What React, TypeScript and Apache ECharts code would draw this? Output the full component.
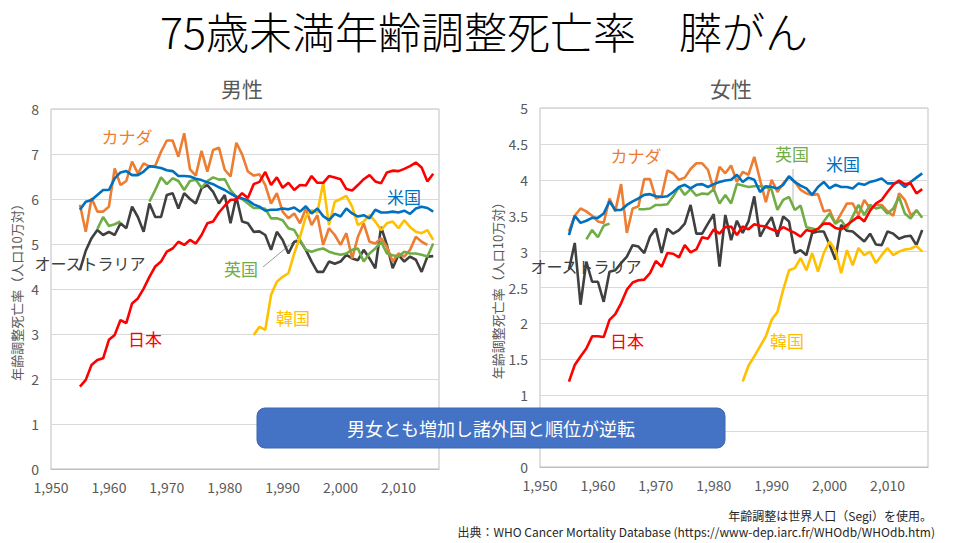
import { useEffect, useRef } from 'react';
import * as echarts from 'echarts';

const FONT = '"Noto Sans CJK JP", "Noto Sans", sans-serif';

const FIRST_YEAR = 1955;
const KOREA_FIRST_YEAR = 1985;

// 男性 (1955-2016)
const maleJapan = [
  1.83, 1.98, 2.31, 2.42, 2.46, 2.87, 2.98, 3.31, 3.24, 3.68,
  3.79, 4.01, 4.27, 4.5, 4.61, 4.83, 4.9, 5.05, 4.98, 5.09,
  5.01, 5.2, 5.46, 5.5, 5.7, 5.85, 5.98, 5.99, 6.13, 6.02,
  6.33, 6.38, 6.6, 6.31, 6.48, 6.25, 6.36, 6.2, 6.31, 6.3,
  6.51, 6.36, 6.36, 6.51, 6.48, 6.44, 6.22, 6.19, 6.31, 6.44,
  6.53, 6.39, 6.35, 6.59, 6.63, 6.62, 6.67, 6.73, 6.81, 6.7,
  6.39, 6.56,
];
const maleUSA = [
  5.76, 5.94, 5.98, 6.09, 6.2, 6.2, 6.46, 6.59, 6.62, 6.53,
  6.53, 6.61, 6.73, 6.71, 6.69, 6.64, 6.62, 6.51, 6.51, 6.5,
  6.45, 6.42, 6.37, 6.33, 6.26, 6.2, 6.12, 6.05, 6.01, 5.97,
  5.88, 5.83, 5.74, 5.76, 5.76, 5.79, 5.77, 5.81, 5.72, 5.84,
  5.68, 5.79, 5.62, 5.53, 5.67, 5.61, 5.79, 5.68, 5.61, 5.64,
  5.57, 5.76, 5.7, 5.7, 5.72, 5.7, 5.74, 5.67, 5.79, 5.83,
  5.8, 5.72,
];
const maleCanada = [
  5.87, 5.27, 6.02, 5.72, 5.72, 5.83, 6.68, 6.31, 6.4, 6.83,
  6.57, 6.79, 6.72, 6.74, 7.05, 7.3, 7.3, 6.94, 7.46, 6.66,
  6.52, 7.07, 6.61, 7.09, 7.14, 6.65, 6.5, 7.25, 6.99, 6.61,
  6.52, 6.55, 6.31, 5.9, 6.13, 5.72, 5.57, 5.68, 5.46, 5.79,
  5.42, 5.64, 4.98, 5.35, 5.2, 4.98, 5.24, 4.68, 5.16, 5.46,
  5.05, 5.01, 5.13, 4.94, 4.61, 4.79, 4.72, 4.87, 5.16, 5.05,
  4.98, null,
];
const maleUK = [
  null, null, null, 5.33, 5.6, 5.4, 5.44, 5.5, null, null,
  null, null, 5.94, 6.2, 6.48, 6.33, 6.46, 6.4, 6.2, 6.4,
  6.43, 6.25, 6.4, 6.48, 6.43, 6.44, 6.2, 6.05, 6.0, 5.9,
  5.8, 5.8, 5.78, 5.57, 5.57, 5.53, 5.35, 5.31, 5.09, 4.87,
  4.83, 4.87, 4.9, 4.83, 4.79, 4.76, 4.79, 4.87, 4.9, 4.61,
  4.79, 4.9, 5.05, 4.79, 4.75, 4.72, 4.83, 4.79, 4.79, 4.76,
  4.72, 5.01,
];
const maleAustralia = [
  4.42, 4.85, 5.13, 5.31, 5.2, 5.27, 5.2, 5.46, 5.35, 5.83,
  5.6, 5.27, 5.9, 5.6, 5.6, 6.09, 6.13, 5.79, 6.13, 6.0,
  5.9, 6.24, 6.31, 6.16, 5.9, 6.09, 5.46, 6.05, 5.5, 5.46,
  5.27, 5.28, 5.2, 4.87, 5.27, 5.09, 4.79, 5.05, 5.07, 4.87,
  4.61, 4.38, 4.38, 4.61, 4.56, 4.61, 4.76, 4.68, 4.64, 4.87,
  4.68, 4.46, 5.38, 4.98, 4.46, 4.76, 4.61, 4.72, 4.65, 4.38,
  4.72, 4.73,
];
// 1985-2016
const maleKorea = [
  2.98, 3.16, 3.09, 3.87, 4.16, 4.27, 4.35, 4.79, 5.16, 5.61,
  5.75, 5.7, 6.36, 5.42, 5.94, 6.0, 6.07, 5.83, 5.42, 5.5,
  5.64, 5.5, 5.31, 5.46, 5.5, 5.35, 5.53, 5.38, 5.27, 5.24,
  5.31, 5.09,
];

// 女性 (1955-2016)
const femaleJapan = [
  1.19, 1.42, 1.54, 1.65, 1.82, 1.82, 1.81, 2.05, 2.13, 2.28,
  2.47, 2.57, 2.6, 2.61, 2.7, 2.87, 2.79, 2.98, 2.97, 2.92,
  3.09, 2.99, 3.03, 3.2, 3.18, 3.31, 3.25, 3.34, 3.35, 3.23,
  3.35, 3.31, 3.38, 3.36, 3.35, 3.31, 3.28, 3.34, 3.3, 3.26,
  3.21, 3.3, 3.28, 3.32, 3.39, 3.39, 3.33, 3.31, 3.37, 3.43,
  3.49, 3.42, 3.57, 3.67, 3.72, 3.83, 3.93, 3.99, 3.94, 3.95,
  3.81, 3.87,
];
const femaleUSA = [
  3.23, 3.5, 3.4, 3.43, 3.47, 3.47, 3.53, 3.7, 3.58, 3.58,
  3.65, 3.7, 3.74, 3.79, 3.8, 3.77, 3.76, 3.77, 3.83, 3.9,
  3.93, 3.88, 3.93, 3.94, 3.9, 3.94, 3.97, 3.99, 4.0, 4.07,
  3.97, 4.03, 4.0, 3.83, 3.91, 3.9, 3.88, 3.93, 4.05, 3.97,
  3.92, 3.88, 3.79, 3.9, 3.97, 3.88, 3.93, 3.9, 3.9, 3.88,
  3.95, 3.93, 3.97, 3.99, 4.02, 3.95, 3.95, 3.97, 3.9, 3.97,
  4.03, 4.09,
];
const femaleCanada = [
  3.28, 3.5, 3.6, 3.56, 3.5, 3.42, 3.4, 3.74, 3.56, 3.94,
  3.26, 3.6, 3.63, 4.01, 4.01, 3.74, 3.77, 4.13, 4.09, 4.0,
  4.03, 4.15, 4.23, 4.23, 4.14, 3.86, 4.18, 4.09, 4.2, 3.97,
  4.11, 4.07, 4.32, 4.0, 3.69, 4.0, 3.83, 3.95, 4.04, 3.97,
  3.86, 3.81, 3.79, 3.8, 3.56, 3.58, 3.39, 3.53, 3.67, 3.67,
  3.51, 3.72, 3.6, 3.65, 3.65, 3.56, 3.5, 3.81, 3.72, 3.51,
  3.56, null,
];
const femaleUK = [
  null, null, null, 3.17, 3.3, 3.2, 3.36, 3.39, null, null,
  null, null, 3.59, 3.59, 3.6, 3.65, 3.65, 3.66, 3.77, 3.9,
  3.79, 3.87, 3.78, 3.81, 3.8, 3.87, 3.67, 3.79, 3.67, 3.94,
  3.92, 3.9, 3.91, 3.91, 3.9, 3.86, 3.58, 3.72, 3.76, 3.58,
  3.64, 3.34, 3.32, 3.3, 3.42, 3.53, 3.39, 3.44, 3.32, 3.49,
  3.65, 3.51, 3.65, 3.6, 3.62, 3.53, 3.6, 3.76, 3.53, 3.46,
  3.58, 3.47,
];
const femaleAustralia = [
  2.75, 3.12, 2.26, 2.86, 2.58, 2.58, 2.3, 2.72, 2.74, 2.84,
  2.93, 3.09, 3.07, 2.98, 3.21, 3.32, 2.98, 3.32, 3.25, 3.3,
  3.39, 3.65, 3.25, 3.25, 3.39, 3.52, 2.79, 3.51, 3.16, 3.43,
  3.26, 3.42, 3.77, 3.21, 3.36, 3.48, 3.21, 3.49, 3.42, 2.98,
  3.02, 2.95, 3.26, 3.28, 3.28, 3.1, 2.89, 3.37, 3.29, 3.28,
  3.21, 3.14, 3.25, 3.1, 3.09, 3.28, 3.25, 3.18, 3.21, 3.22,
  3.09, 3.3,
];
// 1985-2016
const femaleKorea = [
  1.19, 1.41, 1.54, 1.68, 1.82, 2.05, 2.16, 2.47, 2.74, 2.77,
  2.91, 2.74, 2.98, 2.72, 2.98, 3.14, 3.02, 2.7, 3.02, 2.81,
  3.05, 2.95, 3.0, 2.84, 2.95, 3.05, 2.95, 3.0, 3.03, 3.04,
  3.08, 3.0,
];

const COLORS = {
  japan: '#ff0000',
  usa: '#0070c0',
  canada: '#ed7d31',
  uk: '#70ad47',
  australia: '#404040',
  korea: '#ffc000',
};

const toPairs = (start: number, values: (number | null)[]) =>
  values.map((v, i) => [start + i, v]);

function lineSeries(name: string, color: string, start: number, values: (number | null)[], idx: number) {
  return {
    name,
    type: 'line',
    xAxisIndex: idx,
    yAxisIndex: idx,
    data: toPairs(start, values),
    showSymbol: false,
    symbol: 'none',
    connectNulls: false,
    lineStyle: { color, width: 2.6 },
    itemStyle: { color },
    silent: true,
  };
}

function label(text: string, x: number, y: number, color: string, size = 17, z = 10) {
  return {
    type: 'text',
    x,
    y,
    z,
    silent: true,
    style: {
      text,
      fill: color,
      font: `${size}px ${FONT}`,
      textAlign: 'center',
      textVerticalAlign: 'middle',
    },
  };
}

const axisLabelStyle = { color: '#595959', fontSize: 14, fontFamily: FONT };
const yName = '年齢調整死亡率（人口10万対）';

export default function App() {
  const chartRef = useRef<HTMLDivElement>(null);
  useEffect(() => {
    if (!chartRef.current) return;
    const chart = echarts.init(chartRef.current, undefined, { renderer: 'svg' });
    const xAxis = (gridIndex: number) => ({
      type: 'value',
      gridIndex,
      min: 1950,
      max: 2017,
      interval: 10,
      splitLine: { show: false },
      axisTick: { show: false },
      axisLine: { lineStyle: { color: '#bfbfbf' } },
      axisLabel: { ...axisLabelStyle, margin: 11, showMaxLabel: false },
    });
    const yAxis = (gridIndex: number, max: number, interval: number, nameGap: number) => ({
      type: 'value',
      gridIndex,
      min: 0,
      max,
      interval,
      name: yName,
      nameLocation: 'middle',
      nameGap,
      nameTextStyle: { color: '#595959', fontSize: 13, fontFamily: FONT },
      axisLine: { show: false },
      axisTick: { show: false },
      splitLine: { lineStyle: { color: '#d9d9d9' } },
      axisLabel: { ...axisLabelStyle, margin: 12 },
    });
    chart.setOption({
      animation: false,
      textStyle: { fontFamily: FONT },
      grid: [
        { left: 51, top: 109, width: 388, height: 360, show: true, borderColor: '#bfbfbf', borderWidth: 1 },
        { left: 540, top: 108, width: 388, height: 359, show: true, borderColor: '#bfbfbf', borderWidth: 1 },
      ],
      xAxis: [xAxis(0), xAxis(1)],
      yAxis: [yAxis(0, 8, 1, 28), yAxis(1, 5, 0.5, 36)],
      series: [
        lineSeries('オーストラリア', COLORS.australia, FIRST_YEAR, maleAustralia, 0),
        lineSeries('カナダ', COLORS.canada, FIRST_YEAR, maleCanada, 0),
        lineSeries('英国', COLORS.uk, FIRST_YEAR, maleUK, 0),
        lineSeries('韓国', COLORS.korea, KOREA_FIRST_YEAR, maleKorea, 0),
        lineSeries('米国', COLORS.usa, FIRST_YEAR, maleUSA, 0),
        lineSeries('日本', COLORS.japan, FIRST_YEAR, maleJapan, 0),
        lineSeries('オーストラリア', COLORS.australia, FIRST_YEAR, femaleAustralia, 1),
        lineSeries('カナダ', COLORS.canada, FIRST_YEAR, femaleCanada, 1),
        lineSeries('英国', COLORS.uk, FIRST_YEAR, femaleUK, 1),
        lineSeries('韓国', COLORS.korea, KOREA_FIRST_YEAR, femaleKorea, 1),
        lineSeries('米国', COLORS.usa, FIRST_YEAR, femaleUSA, 1),
        lineSeries('日本', COLORS.japan, FIRST_YEAR, femaleJapan, 1),
      ],
      graphic: [
        {
          type: 'text',
          x: 484,
          y: 30,
          style: {
            text: '75歳未満年齢調整死亡率　膵がん',
            fill: '#000',
            font: `200 43px ${FONT}`,
            textAlign: 'center',
            textVerticalAlign: 'middle',
          },
        },
        label('男性', 242, 88, '#595959', 21),
        label('女性', 731, 88, '#595959', 21),
        // 男性
        label('カナダ', 127, 136, COLORS.canada),
        label('米国', 404, 196, COLORS.usa),
        label('オーストラリア', 90, 263, COLORS.australia, 16),
        label('英国', 241, 268, COLORS.uk),
        label('日本', 145, 338, COLORS.japan),
        label('韓国', 293, 317, COLORS.korea),
        {
          type: 'line',
          silent: true,
          shape: { x1: 263, y1: 267, x2: 298, y2: 238 },
          style: { stroke: '#7f7f7f', lineWidth: 0.8 },
        },
        // 女性
        label('カナダ', 636, 155, COLORS.canada),
        label('英国', 792, 153, COLORS.uk),
        label('米国', 843, 163, COLORS.usa),
        label('オーストラリア', 586, 266, COLORS.australia, 16),
        label('日本', 627, 340, COLORS.japan),
        label('韓国', 787, 340, COLORS.korea),
        {
          type: 'line',
          silent: true,
          shape: { x1: 793, y1: 169, x2: 793, y2: 208 },
          style: { stroke: '#a6a6a6', lineWidth: 0.8 },
        },
        {
          type: 'rect',
          silent: true,
          z: 100,
          shape: { x: 257, y: 408, width: 468, height: 40, r: 8 },
          style: { fill: '#4472c4', stroke: '#3f66ad', lineWidth: 1 },
        },
        label('男女とも増加し諸外国と順位が逆転', 491, 428, '#ffffff', 18, 101),
        {
          type: 'text',
          x: 932,
          y: 515,
          style: {
            text: '年齢調整は世界人口（Segi）を使用。',
            fill: '#262626',
            font: `12px ${FONT}`,
            textAlign: 'right',
            textVerticalAlign: 'middle',
          },
        },
        {
          type: 'text',
          x: 935,
          y: 531,
          style: {
            text: '出典：WHO Cancer Mortality Database (https://www-dep.iarc.fr/WHOdb/WHOdb.htm)',
            fill: '#262626',
            font: `12px ${FONT}`,
            textAlign: 'right',
            textVerticalAlign: 'middle',
          },
        },
      ],
    });
    return () => {
      chart.dispose();
    };
  }, []);
  return (
    <div
      ref={chartRef}
      style={{ position: 'fixed', left: 0, top: 0, width: 958, height: 543, background: '#fff' }}
    />
  );
}
